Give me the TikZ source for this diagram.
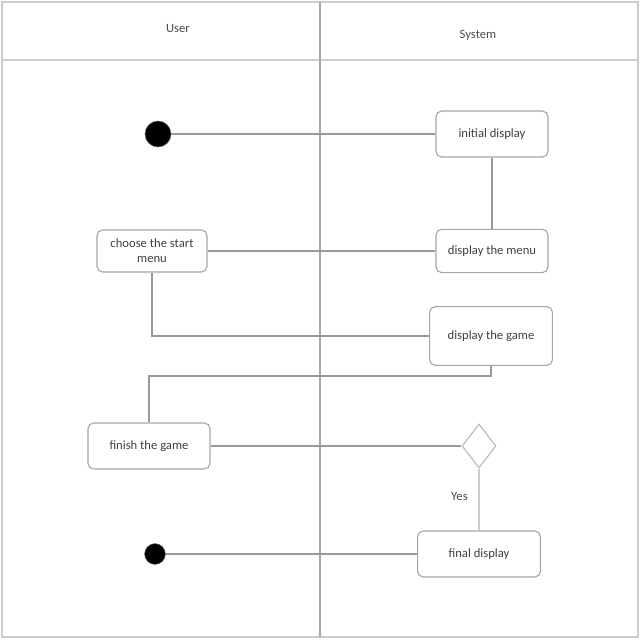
\documentclass[tikz,border=0pt]{standalone}
\usepackage{fontspec}
\setmainfont{Carlito}
\usetikzlibrary{shapes}
\usetikzlibrary{shapes.geometric}
\usetikzlibrary{positioning}
\tikzset{
    actnode/.style = {rectangle, rounded corners=4pt, draw=gray!70, line width=0.8pt, align=center, fill=white, font=\fontsize{9}{10.5}\selectfont, text=black!75, minimum width=2.8cm, minimum height=1.15cm, inner sep=1pt},
    dotnode/.style = {circle, fill=black, draw=black!60, inner sep=0pt},
    decnode/.style = {diamond, draw=gray!55, line width=0.8pt, fill=white, minimum width=0.85cm, minimum height=1.1cm, inner sep=0pt},
    lanel/.style = {font=\fontsize{9}{10.5}\selectfont, text=black!70},
    edgen/.style = {-, line width=0.9pt, gray!80},
    edgel/.style = {-, line width=1.4pt, gray!40}, % lanes
}

\begin{document}
\begin{tikzpicture}[x=0.025cm, y=-0.025cm]
  \useasboundingbox (0,0) rectangle (640,640);

  % swimlanes
  \draw[edgel] (2,2) rectangle (638,637);
  \draw[edgel] (2,60) -- (638,60);
  \draw[edgen, gray!70] (320,2) -- (320,637);
  \node[lanel] (user) at (178,28) {User};
  \node[lanel] (system) at (478,35) {System};

  % activities
  \node[dotnode, minimum size=0.65cm] (start) at (158,134) {};
  \node[actnode] (initial) at (492,134) {initial display};
  \node[actnode, minimum height=1.08cm] (menu) at (492,251) {display the menu};
  \node[actnode, minimum width=2.75cm, minimum height=1.05cm] (choose) at (152,251) {choose the start\\menu};
  \node[actnode, minimum width=3.07cm, minimum height=1.47cm] (game) at (491,336) {display the game};
  \node[actnode, minimum width=3.05cm] (finish) at (149,446) {finish the game};
  \node[decnode] (check) at (479,446) {};
  \node[actnode, minimum width=3.07cm] (final) at (479,554) {final display};
  \node[dotnode, minimum size=0.52cm] (stop) at (155,554) {};

  % flow
  \draw[edgen] (start) -- (initial);
  \draw[edgen] (initial) -- (menu);
  \draw[edgen] (menu) -- (choose);
  \draw[edgen] (choose.south) |- (game.west);
  \draw[edgen] (game.south) -- ++(0,10) -| (finish.north);
  \draw[edgen] (finish) -- (check);
  \draw[edgen, gray!40, line width=1.4pt] (check) -- node[lanel, left=4pt, pos=0.45] {Yes} (final);
  \draw[edgen] (final) -- (stop);

\end{tikzpicture}
\end{document}
